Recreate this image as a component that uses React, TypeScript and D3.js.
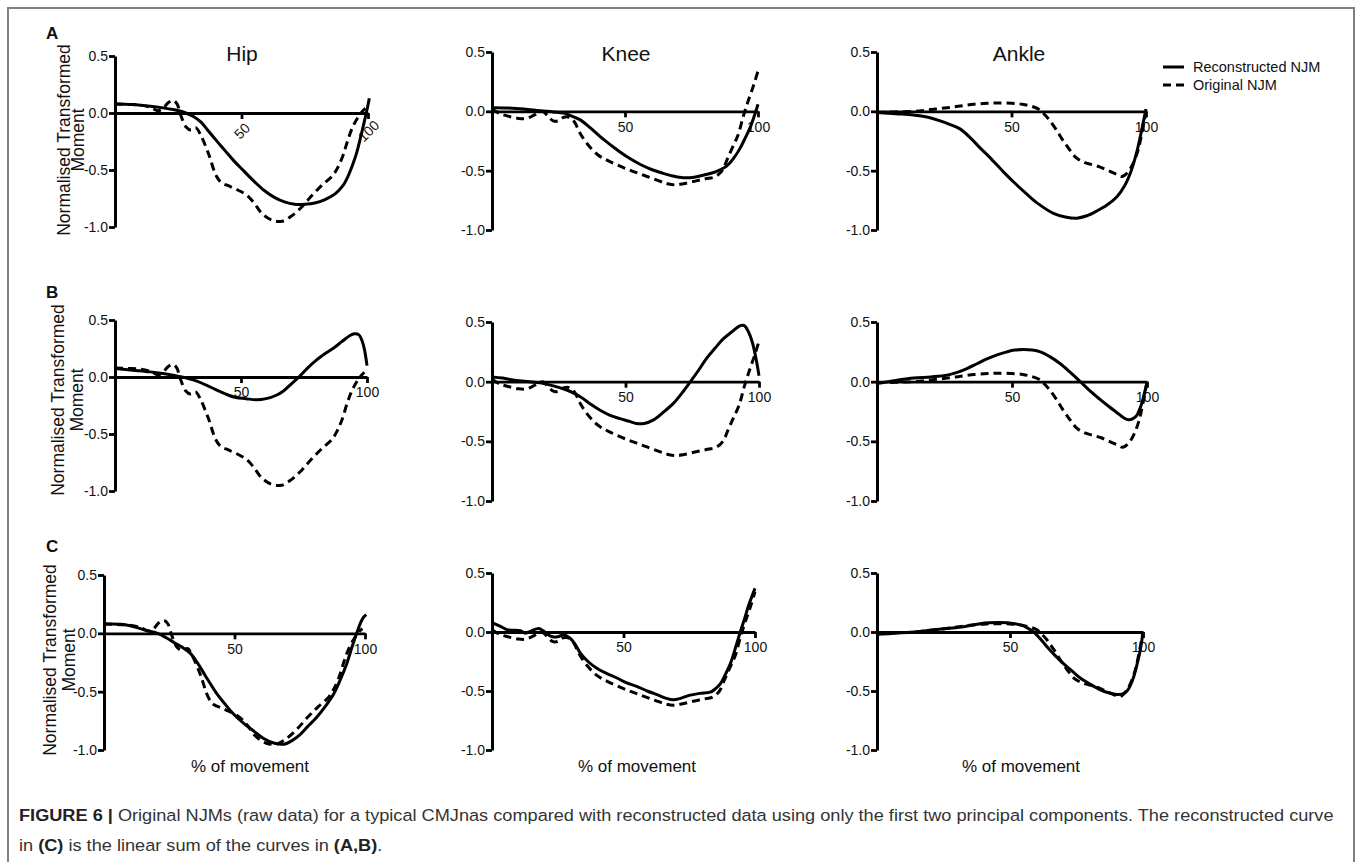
import React, { useEffect, useRef } from 'react';
import * as d3 from 'd3';

type Pt = [number, number];

// [% of movement, normalised transformed moment]
const hipOriginal: Pt[] = [[0,0.08],[5,0.075],[10,0.07],[14,0.05],[17,0.02],[19,0.04],[21,0.09],[23,0.11],[24.5,0.08],[26,-0.02],[28,-0.12],[30,-0.15],[32,-0.13],[34,-0.2],[37,-0.36],[40,-0.55],[42,-0.61],[45,-0.64],[48,-0.67],[52,-0.72],[55,-0.79],[58,-0.88],[62,-0.94],[66,-0.95],[70,-0.9],[74,-0.82],[78,-0.72],[82,-0.63],[86,-0.55],[88,-0.48],[90,-0.38],[92,-0.24],[94,-0.12],[96,-0.04],[98,0.02],[99,0.04]];
const kneeOriginal: Pt[] = [[0,0.02],[3,-0.02],[6,-0.04],[10,-0.06],[13,-0.06],[16,-0.03],[19,0.0],[21,-0.04],[23,-0.08],[25,-0.08],[27,-0.05],[29,-0.05],[31,-0.09],[33,-0.18],[36,-0.28],[40,-0.37],[44,-0.42],[50,-0.48],[56,-0.53],[62,-0.58],[66,-0.61],[69,-0.62],[72,-0.61],[76,-0.59],[80,-0.57],[84,-0.55],[86.5,-0.5],[88.5,-0.4],[90.5,-0.3],[92.5,-0.2],[94.5,-0.04],[96.5,0.1],[98.5,0.23],[100,0.34]];
const ankleOriginal: Pt[] = [[0,-0.01],[7,-0.005],[14,0.0],[20,0.015],[26,0.03],[31,0.045],[36,0.06],[41,0.068],[45,0.07],[50,0.068],[54,0.06],[57,0.045],[60,0.02],[62,-0.02],[64,-0.07],[66.5,-0.15],[69,-0.24],[71.5,-0.32],[74,-0.39],[77,-0.43],[80,-0.45],[83,-0.47],[86,-0.5],[89,-0.53],[91,-0.55],[93,-0.52],[95,-0.45],[97,-0.33],[98.5,-0.18],[100,0.0]];

const hipReconA: Pt[] = [[0,0.08],[7,0.075],[14,0.06],[19,0.045],[23,0.03],[26,0.015],[28,0.0],[31,-0.03],[34,-0.08],[37,-0.16],[40,-0.24],[43.5,-0.33],[47,-0.42],[51,-0.51],[55,-0.6],[59,-0.68],[63,-0.74],[67,-0.78],[71,-0.8],[75,-0.8],[79,-0.79],[83,-0.76],[87,-0.71],[90,-0.64],[92,-0.56],[94,-0.45],[95.5,-0.35],[97,-0.22],[98.5,-0.08],[100,0.07],[100.5,0.13]];
const kneeReconA: Pt[] = [[0,0.03],[6,0.028],[12,0.02],[18,0.005],[23,-0.005],[27,-0.015],[30,-0.04],[33,-0.07],[37,-0.14],[41,-0.22],[45,-0.29],[48,-0.34],[52,-0.4],[56,-0.45],[60,-0.49],[64,-0.52],[68,-0.545],[72,-0.56],[76,-0.555],[80,-0.535],[84,-0.51],[88.3,-0.46],[91,-0.39],[93.3,-0.31],[95.3,-0.22],[97,-0.14],[98.6,-0.04],[100,0.06]];
const ankleReconA: Pt[] = [[0,-0.01],[7,-0.02],[13.5,-0.03],[19,-0.05],[23.5,-0.08],[27,-0.11],[31,-0.15],[35,-0.23],[38.4,-0.31],[42,-0.39],[47,-0.51],[51,-0.6],[55.8,-0.7],[60,-0.78],[65.6,-0.86],[70,-0.89],[74.3,-0.9],[78,-0.88],[81.7,-0.84],[85.5,-0.79],[89.2,-0.72],[92,-0.63],[94.2,-0.52],[95.5,-0.43],[96.6,-0.34],[98,-0.2],[99,-0.09],[100,0.02]];

const hipReconB: Pt[] = [[0,0.075],[7,0.06],[14,0.045],[19,0.03],[23,0.015],[26.5,0.0],[29.5,-0.015],[33,-0.04],[36,-0.07],[40,-0.11],[44,-0.15],[48,-0.18],[52,-0.19],[56,-0.2],[60,-0.19],[64,-0.16],[67,-0.12],[70,-0.06],[73,0.0],[76.5,0.08],[80,0.15],[83,0.2],[86.5,0.25],[90,0.31],[93,0.36],[95,0.38],[96.8,0.37],[98,0.32],[99,0.24],[100,0.1]];
const kneeReconB: Pt[] = [[0,0.04],[4,0.03],[9,0.01],[14,0.0],[18,-0.01],[23,-0.035],[28,-0.07],[31,-0.1],[34,-0.14],[37,-0.19],[40.5,-0.24],[44,-0.28],[48,-0.31],[51,-0.33],[54,-0.35],[57,-0.35],[60.5,-0.32],[64,-0.26],[68,-0.18],[71,-0.1],[74.3,0.0],[77.5,0.1],[80.5,0.2],[83.5,0.28],[86.7,0.36],[90,0.42],[93,0.47],[94.5,0.47],[96,0.42],[97.5,0.33],[99,0.18],[100,0.05]];
const ankleReconB: Pt[] = [[0,-0.015],[7,0.01],[13.6,0.03],[20,0.04],[26,0.055],[30,0.08],[33.3,0.11],[37,0.15],[40.7,0.19],[44.5,0.225],[48.1,0.25],[51,0.265],[54.3,0.27],[57.5,0.265],[60.5,0.25],[64,0.21],[67.9,0.15],[71.5,0.08],[75.3,0.0],[79,-0.08],[82.7,-0.15],[86,-0.21],[88.9,-0.26],[91.2,-0.3],[93.2,-0.32],[94.8,-0.31],[96.3,-0.28],[97.3,-0.23],[98.1,-0.18],[99,-0.1],[100,-0.01]];

const hipReconC: Pt[] = [[0,0.08],[6.5,0.078],[10,0.065],[14,0.04],[17,0.02],[20.5,0.0],[24,-0.04],[27,-0.08],[30,-0.12],[33,-0.17],[36,-0.26],[39,-0.37],[43,-0.51],[46.5,-0.61],[50,-0.7],[54,-0.78],[57.5,-0.84],[61,-0.9],[65,-0.94],[69,-0.95],[72,-0.92],[75,-0.87],[78,-0.8],[81.5,-0.72],[85,-0.62],[88,-0.52],[90.5,-0.4],[93,-0.26],[95,-0.12],[96.8,0.0],[98.5,0.1],[99.5,0.14],[100.5,0.16]];
const kneeReconC: Pt[] = [[0,0.08],[3,0.05],[5.7,0.02],[8,0.015],[10.8,0.01],[12.7,-0.01],[15,0.01],[17.7,0.03],[19.5,0.01],[21,-0.02],[23,-0.04],[25,-0.04],[27.2,-0.025],[29.8,-0.055],[31.5,-0.1],[33.6,-0.18],[36.5,-0.25],[40,-0.31],[43.5,-0.35],[47.5,-0.39],[51,-0.43],[55,-0.46],[59,-0.5],[62.7,-0.53],[66,-0.56],[69,-0.575],[72,-0.56],[75.4,-0.535],[79,-0.52],[83,-0.51],[85,-0.48],[86.8,-0.44],[88.5,-0.37],[90.6,-0.27],[92.5,-0.14],[94.4,0.0],[96,0.11],[97.5,0.22],[100,0.37]];
const ankleReconC: Pt[] = [[0,-0.02],[7,-0.01],[13.8,0.0],[20,0.015],[26.3,0.03],[32.6,0.045],[38.8,0.07],[42,0.078],[45.1,0.08],[49,0.078],[53.9,0.06],[56.5,0.035],[58.9,0.0],[61.3,-0.055],[63.9,-0.125],[67,-0.2],[70.2,-0.27],[73.3,-0.33],[76.4,-0.39],[80,-0.44],[84,-0.49],[87,-0.515],[90.2,-0.53],[92.3,-0.525],[94,-0.5],[95.3,-0.45],[96.5,-0.38],[97.8,-0.27],[99,-0.15],[100,0.0]];

const joints = ['Hip', 'Knee', 'Ankle'];
const rowLetters = ['A', 'B', 'C'];
const yTicks = [0.5, 0.0, -0.5, -1.0];
const xTicks = [50, 100];
const legendLabels = ['Reconstructed NJM', 'Original NJM'];
const yLabelLines = ['Normalised Transformed', 'Moment'];
const xLabel = '% of movement';

const originals = [hipOriginal, kneeOriginal, ankleOriginal];
const reconstructed = [
  [hipReconA, kneeReconA, ankleReconA],
  [hipReconB, kneeReconB, ankleReconB],
  [hipReconC, kneeReconC, ankleReconC],
];

const FONT = "'Liberation Sans', Arial, Helvetica, sans-serif";
const W = 1357;
const H = 862;

// pixel frames of the nine small plots (x of 0 and 100, y of 0.5 and -1.0)
const frames = [
  [{ x0: 115, x1: 368, top: 56, bottom: 227 }, { x0: 492, x1: 758, top: 52, bottom: 230 }, { x0: 877, x1: 1146, top: 52, bottom: 230 }],
  [{ x0: 115, x1: 367, top: 320, bottom: 491 }, { x0: 492, x1: 759, top: 322, bottom: 501 }, { x0: 877, x1: 1147, top: 322, bottom: 501 }],
  [{ x0: 104, x1: 365, top: 575, bottom: 750 }, { x0: 492, x1: 755, top: 573, bottom: 750 }, { x0: 877, x1: 1143, top: 573, bottom: 750 }],
];
const titleX = [242, 626, 1019];
const letterY = [39, 298, 552];
const yLabelPos = [
  { cy: 140, b1: 70, b2: 84 },
  { cy: 400, b1: 64, b2: 83 },
  { cy: 660, b1: 56, b2: 75 },
];
const xLabelX = [250, 637, 1021];

export default function App() {
  const svgRef = useRef<SVGSVGElement>(null);

  useEffect(() => {
    const svg = d3.select(svgRef.current);
    svg.selectAll('*').remove();
    svg.attr('width', W).attr('height', H).style('background', '#fff');

    // frame round the figure
    svg.append('rect')
      .attr('x', 8).attr('y', 8).attr('width', 1346).attr('height', H + 20)
      .attr('fill', 'none').attr('stroke', '#808080').attr('stroke-width', 2);

    frames.forEach((row, r) => {
      row.forEach((f, j) => {
        const x = d3.scaleLinear().domain([0, 100]).range([f.x0, f.x1]);
        const y = d3.scaleLinear().domain([-1, 0.5]).range([f.bottom, f.top]);
        const g = svg.append('g');

        const yAxis = d3.axisLeft(y)
          .tickValues(yTicks)
          .tickFormat(d => (+d).toFixed(1))
          .tickSize(6)
          .tickSizeOuter(0);
        const ya = g.append('g').attr('transform', `translate(${f.x0},0)`).call(yAxis);
        ya.select('.domain').attr('stroke-width', 3).attr('stroke', '#000');
        ya.selectAll('.tick line').attr('stroke-width', 2.8).attr('stroke', '#000');
        ya.selectAll('.tick text').attr('x', -7).attr('font-size', 14).attr('font-family', FONT).attr('fill', '#111');

        const xAxis = d3.axisBottom(x).tickValues(xTicks).tickSize(6).tickSizeOuter(0);
        const xa = g.append('g').attr('transform', `translate(0,${y(0)})`).call(xAxis);
        xa.select('.domain').attr('stroke-width', 2.8).attr('stroke', '#000');
        xa.selectAll('.tick line').attr('stroke-width', 2.8).attr('stroke', '#000');
        const xt = xa.selectAll('.tick text').attr('font-size', 14).attr('font-family', FONT).attr('fill', '#111');
        if (r === 0 && j === 0) {
          xt.attr('y', 0).attr('dy', '0.35em').attr('text-anchor', 'middle')
            .attr('transform', 'translate(0,18) rotate(-45)');
        } else {
          xt.attr('y', 9).attr('dy', '0.8em');
        }

        const line = d3.line<Pt>()
          .x(d => x(d[0]))
          .y(d => y(d[1]))
          .curve(d3.curveCatmullRom.alpha(0.5));

        g.append('path')
          .attr('d', line(originals[j]))
          .attr('fill', 'none').attr('stroke', '#000').attr('stroke-width', 3)
          .attr('stroke-dasharray', '8,5');
        g.append('path')
          .attr('d', line(reconstructed[r][j]))
          .attr('fill', 'none').attr('stroke', '#000').attr('stroke-width', 3);

        if (r === 2) {
          svg.append('text')
            .attr('x', xLabelX[j]).attr('y', 772)
            .attr('text-anchor', 'middle').attr('font-family', FONT).attr('font-size', 17)
            .attr('fill', '#111').text(xLabel);
        }
      });

      // panel letter
      svg.append('text')
        .attr('x', 46).attr('y', letterY[r])
        .attr('font-family', FONT).attr('font-weight', 'bold').attr('font-size', 17)
        .attr('fill', '#111').text(rowLetters[r]);

      // y label, two lines
      const p = yLabelPos[r];
      [p.b1, p.b2].forEach((b, i) => {
        svg.append('text')
          .attr('transform', `translate(${b},${p.cy}) rotate(-90)`)
          .attr('text-anchor', 'middle').attr('font-family', FONT).attr('font-size', 17.5)
          .attr('fill', '#111').text(yLabelLines[i]);
      });
    });

    // joint titles
    joints.forEach((name, j) => {
      svg.append('text')
        .attr('x', titleX[j]).attr('y', 61)
        .attr('text-anchor', 'middle').attr('font-family', FONT).attr('font-size', 21)
        .attr('fill', '#111').text(name);
    });

    // legend
    legendLabels.forEach((lab, i) => {
      const ly = 67 + i * 18;
      svg.append('line')
        .attr('x1', 1163).attr('x2', 1184).attr('y1', ly).attr('y2', ly)
        .attr('stroke', '#000').attr('stroke-width', 3)
        .attr('stroke-dasharray', i === 1 ? '8,5' : null);
      svg.append('text')
        .attr('x', 1193).attr('y', ly + 5)
        .attr('font-family', FONT).attr('font-size', 14.5).attr('fill', '#111').text(lab);
    });

    // caption
    const cap = svg.append('g');
    const l1 = cap.append('text').attr('x', 0).attr('y', 821)
      .attr('font-family', "'Liberation Sans Narrow', " + FONT).attr('font-size', 17).attr('fill', '#333');
    l1.append('tspan').attr('font-weight', 'bold').attr('fill', '#222').text('FIGURE 6 | ');
    l1.append('tspan').text('Original NJMs (raw data) for a typical CMJnas compared with reconstructed data using only the first two principal components. The reconstructed curve');
    const l2 = cap.append('text').attr('x', 0).attr('y', 851)
      .attr('font-family', "'Liberation Sans Narrow', " + FONT).attr('font-size', 17).attr('fill', '#333');
    l2.append('tspan').text('in ');
    l2.append('tspan').attr('font-weight', 'bold').attr('fill', '#222').text('(C)');
    l2.append('tspan').text(' is the linear sum of the curves in ');
    l2.append('tspan').attr('font-weight', 'bold').attr('fill', '#222').text('(A,B)');
    l2.append('tspan').text('.');
    const natural = (l1.node() as SVGTextElement).getComputedTextLength();
    const k = natural > 0 ? 1316 / natural : 1;
    cap.attr('transform', `translate(19,0) scale(${k},1)`);
  }, []);

  return (
    <div style={{ position: 'absolute', left: 0, top: 0 }}>
      <svg ref={svgRef} style={{ display: 'block' }}></svg>
    </div>
  );
}
